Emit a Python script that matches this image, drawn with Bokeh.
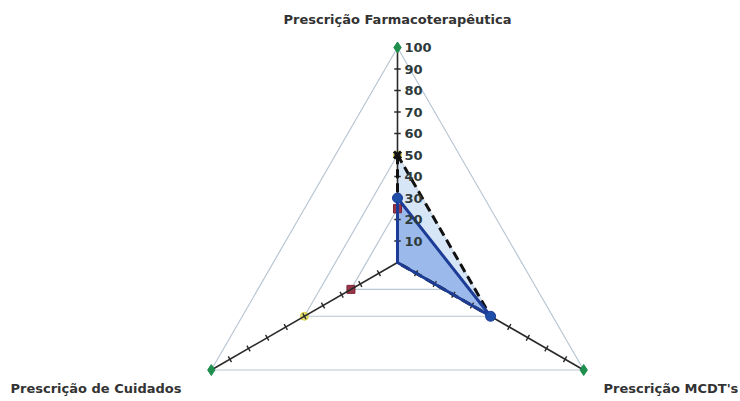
import math
from bokeh.plotting import figure
from bokeh.models import Range1d, ColumnDataSource
from bokeh.core.properties import value
from bokeh.embed import file_html
from bokeh.resources import INLINE

# ---- data ----
categories = ["Prescrição Farmacoterapêutica", "Prescrição MCDT's", "Prescrição de Cuidados"]
angles_deg = [90, -30, 210]
tick_values = [10, 20, 30, 40, 50, 60, 70, 80, 90, 100]
tick_labels = ["10", "20", "30", "40", "50", "60", "70", "80", "90", "100"]
ref_100 = [100, 100, 100]
ref_50 = [50, 50, 50]
ref_25 = [25, 25, 25]
series_dashed = [50, 50, 0]
series_blue = [30, 50, 0]

S = 2.15  # px per unit
W, H = 740, 401
cx, cy = 397, 262  # centre in canvas px

def xy(vals):
    xs, ys = [], []
    for v, a in zip(vals, angles_deg):
        r = math.radians(a)
        xs.append(v * math.cos(r))
        ys.append(v * math.sin(r))
    return xs, ys

p = figure(width=W, height=H, output_backend="svg", toolbar_location=None,
           x_range=Range1d(-cx / S, (W - cx) / S), y_range=Range1d(-(H - cy) / S, cy / S),
           min_border=0)
p.axis.visible = False
p.grid.visible = False
p.outline_line_color = None
p.background_fill_color = "white"

# reference triangles
for ref in (ref_100, ref_50, ref_25):
    xs, ys = xy(ref)
    p.patch(xs + [xs[0]], ys + [ys[0]], fill_color=None, line_color="#b9c6d3", line_width=1.2)

# markers of the reference series (drawn below the data series)
xs, ys = xy(ref_50)
p.scatter(xs, ys, marker="circle", size=8, fill_color="#e6e070", line_color="#d8d050")
xs, ys = xy(ref_25)
p.scatter([xs[0], xs[2]], [ys[0], ys[2]], marker="square", size=8,
          fill_color="#9a3547", line_color="#7a2537")

# fills
xs, ys = xy(series_dashed)
p.patch(xs, ys, fill_color="#d3e3f6", fill_alpha=0.9, line_color=None)
xs, ys = xy(series_blue)
p.patch(xs, ys, fill_color="#98b7ea", fill_alpha=0.95, line_color=None)

# axes with tick marks
for a in angles_deg:
    r = math.radians(a)
    p.line([0, 100 * math.cos(r)], [0, 100 * math.sin(r)], line_color="#2a2a2a", line_width=1.6)
    x0s, y0s, x1s, y1s = [], [], [], []
    px, py = -math.sin(r), math.cos(r)
    for v in tick_values:
        bx, by = v * math.cos(r), v * math.sin(r)
        x0s.append(bx - 1.5 * px); y0s.append(by - 1.5 * py)
        x1s.append(bx + 1.5 * px); y1s.append(by + 1.5 * py)
    p.segment(x0s, y0s, x1s, y1s, line_color="#2a2a2a", line_width=1.4)

# red marker on the vertical axis drawn over it
xs, ys = xy(ref_25)
p.scatter([xs[0]], [ys[0]], marker="square", size=8, fill_color="#9a3547", line_color="#7a2537")

# series lines
xs, ys = xy(series_dashed)
p.line(xs + [xs[0]], ys + [ys[0]], line_color="#111111", line_width=3, line_dash="9 5")
xs, ys = xy(series_blue)
p.line(xs + [xs[0]], ys + [ys[0]], line_color="#1c3c96", line_width=3)

# markers
xs, ys = xy(ref_100)
p.scatter(xs, ys, marker="diamond", size=11, fill_color="#1f8f4e", line_color="#1f8f4e")
xs, ys = xy(series_dashed)
p.scatter(xs[:2], ys[:2], marker="x", size=10, line_color="#111111", line_width=3)
xs, ys = xy(series_blue)
p.scatter(xs[:2], ys[:2], marker="circle", size=10, fill_color="#1f4ea8", line_color="#1c3c96")

# tick labels
src = ColumnDataSource(dict(x=[0] * len(tick_values), y=tick_values, t=tick_labels))
p.text("x", "y", text="t", source=src, x_offset=7, text_align="left", text_baseline="middle",
       text_font=value("DejaVu Sans"), text_font_style="bold", text_font_size="13px",
       text_color="#2e3a3a")

# category labels
p.text([0], [(cy - 19) / S], text=[categories[0]], text_align="center", text_baseline="middle",
       text_font=value("DejaVu Sans"), text_font_style="bold", text_font_size="13px",
       text_color="#333333")
p.text([(603 - cx) / S], [(cy - 388) / S], text=[categories[1]], text_align="left",
       text_baseline="middle", text_font=value("DejaVu Sans"), text_font_style="bold",
       text_font_size="13px", text_color="#333333")
p.text([(10 - cx) / S], [(cy - 388) / S], text=[categories[2]], text_align="left",
       text_baseline="middle", text_font=value("DejaVu Sans"), text_font_style="bold",
       text_font_size="13px", text_color="#333333")

open("out.html", "w").write(file_html(p, INLINE))
